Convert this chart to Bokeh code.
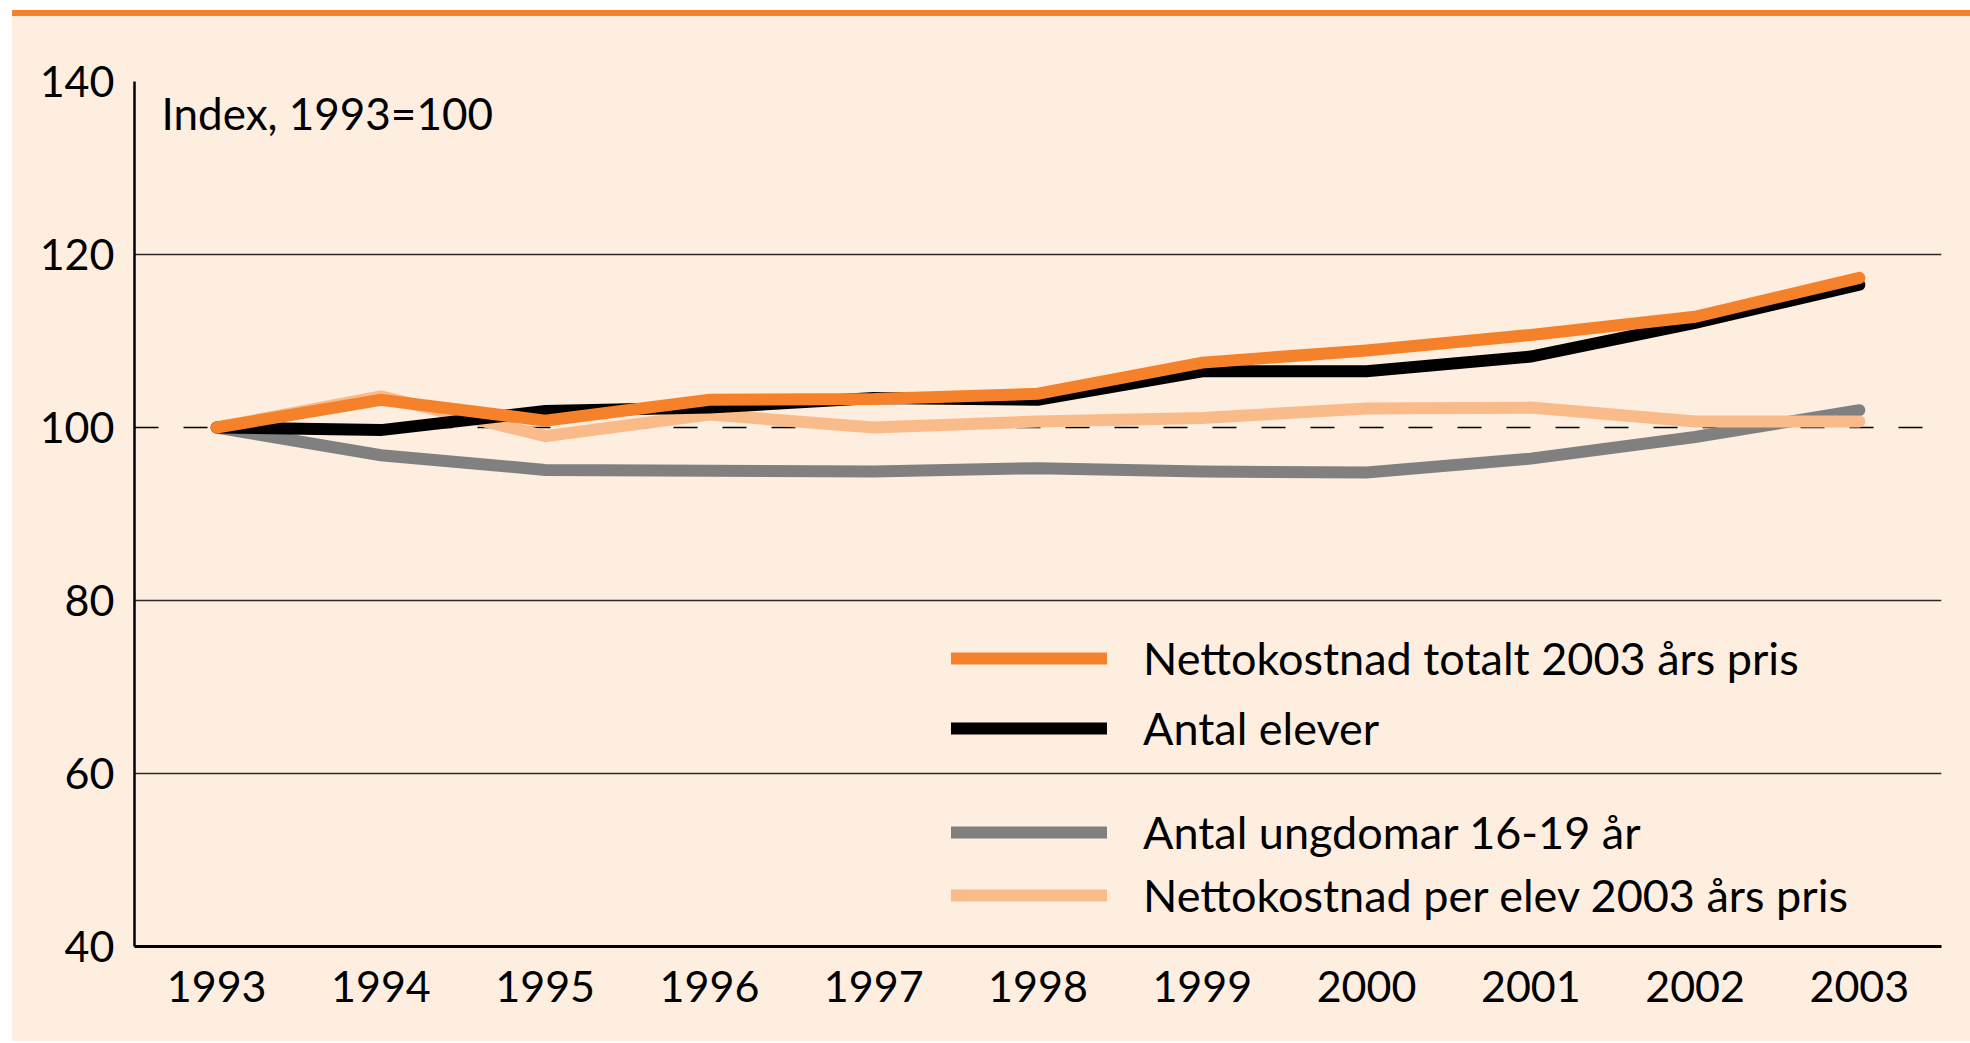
from bokeh.plotting import figure
from bokeh.models import (Range1d, FixedTicker, Span, Label, Legend, LegendItem, Div, Column)
from bokeh.embed import file_html
from bokeh.resources import INLINE

# ---- data ----
years = [1993, 1994, 1995, 1996, 1997, 1998, 1999, 2000, 2001, 2002, 2003]
netto_totalt = [100, 103.2, 100.8, 103.2, 103.3, 103.9, 107.5, 108.9, 110.7, 112.8, 117.3]
antal_elever = [100, 99.7, 101.9, 102.3, 103.4, 103.2, 106.5, 106.5, 108.2, 112.1, 116.5]
antal_ungdomar = [100, 96.8, 95.1, 95.0, 94.9, 95.3, 94.9, 94.8, 96.4, 98.9, 102.0]
netto_per_elev = [100, 103.6, 99.0, 101.5, 100.0, 100.7, 101.1, 102.2, 102.3, 100.7, 100.7]
y_ticks = [40, 60, 80, 100, 120, 140]
grid_ticks = [60, 80, 120, 140]
labels = ["Nettokostnad totalt 2003 års pris", "Antal elever",
          "Antal ungdomar 16-19 år", "Nettokostnad per elev 2003 års pris"]

ORANGE = "#F5822A"
LIGHT = "#FABB8A"
GRAY = "#808080"
BLACK = "#000000"
BG = "#FDEEE0"
FONT = "Lato"

p = figure(width=1958, height=1025, output_backend="svg", toolbar_location=None,
           x_range=Range1d(1992.5, 2003.5), y_range=Range1d(40, 140),
           min_border_left=122, min_border_right=29, min_border_top=65, min_border_bottom=95,
           margin=0)
p.background_fill_color = BG
p.border_fill_color = BG
p.outline_line_color = None

p.xgrid.visible = False
p.ygrid.ticker = FixedTicker(ticks=grid_ticks)
p.ygrid.grid_line_color = "#2e2828"
p.ygrid.grid_line_width = 1.6

for ax in (p.xaxis[0], p.yaxis[0]):
    ax.major_tick_line_color = None
    ax.minor_tick_line_color = None
    ax.major_tick_out = 0
    ax.major_tick_in = 0
    ax.axis_line_color = "#000000"
    ax.major_label_text_font = FONT
    ax.major_label_text_font_size = "43px"
    ax.major_label_text_color = "#000000"

p.xaxis.ticker = FixedTicker(ticks=years)
p.xaxis.axis_line_width = 3
p.xaxis.major_label_standoff = 24
p.yaxis.ticker = FixedTicker(ticks=y_ticks)
p.yaxis.axis_line_width = 2.5
p.yaxis.major_label_standoff = 20

ref = Span(location=100, dimension="width", line_color="#000000", line_width=1.3,
           line_dash="24 25", level="underlay")
p.add_layout(ref)

LW = 12
r_gray = p.line(years, antal_ungdomar, line_color=GRAY, line_width=LW, line_cap="round", line_join="miter")
r_light = p.line(years, netto_per_elev, line_color=LIGHT, line_width=LW, line_cap="round", line_join="miter")
r_black = p.line(years, antal_elever, line_color=BLACK, line_width=LW, line_cap="round", line_join="miter")
r_orange = p.line(years, netto_totalt, line_color=ORANGE, line_width=LW, line_cap="round", line_join="miter")

def make_legend(items, loc, spacing):
    return Legend(items=items, location=loc, spacing=spacing, padding=0, margin=0,
                  border_line_color=None, background_fill_alpha=0,
                  glyph_width=156, glyph_height=60, label_height=60, label_standoff=36,
                  label_text_font=FONT, label_text_font_size="45px", label_text_color="#000000")

leg1 = make_legend([LegendItem(label=labels[0], renderers=[r_orange]),
                    LegendItem(label=labels[1], renderers=[r_black])], (817, 188), 10)
leg2 = make_legend([LegendItem(label=labels[2], renderers=[r_gray]),
                    LegendItem(label=labels[3], renderers=[r_light])], (817, 21), 3)
p.add_layout(leg1)
p.add_layout(leg2)

idx = Label(x=27, y=834, x_units="screen", y_units="screen", text="Index, 1993=100",
            text_font=FONT, text_font_size="44px", text_color="#000000", text_baseline="alphabetic")
p.add_layout(idx)

bar = Div(text="", width=1958, height=6, margin=0, styles={"background-color": ORANGE})
layout = Column(children=[bar, p], spacing=0, margin=(10, 0, 0, 12),
                styles={"background-color": BG})

open("out.html", "w").write(file_html(layout, INLINE))
